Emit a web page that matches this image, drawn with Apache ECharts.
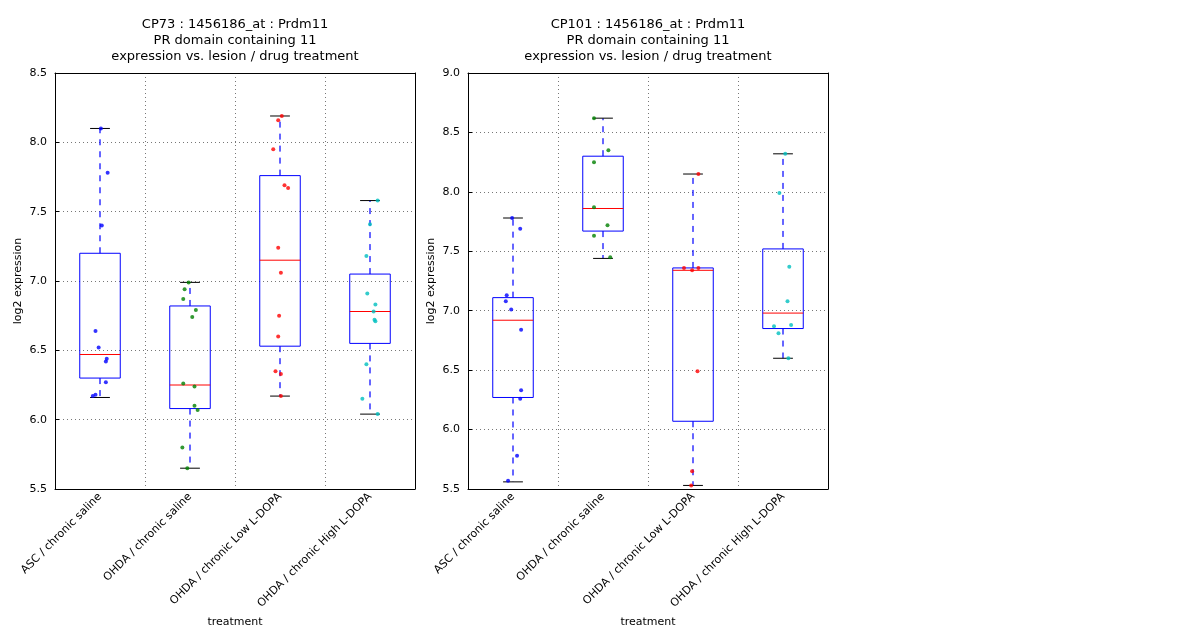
<!DOCTYPE html>
<html><head><meta charset="utf-8">
<script src="https://cdn.jsdelivr.net/npm/echarts@6/dist/echarts.min.js"></script>
<style>body{margin:0;background:#fff}#main{width:1200px;height:640px}</style>
</head><body><div id="main"></div>
<script>
var categories = ['ASC / chronic saline', 'OHDA / chronic saline', 'OHDA / chronic Low L-DOPA', 'OHDA / chronic High L-DOPA'];
var colors = ['#0000ff', '#008000', '#ff0000', '#00bfbf'];

// CP73 : [min whisker, q1, median, q3, max whisker]
var boxCP73 = [
    [6.16, 6.30, 6.47, 7.20, 8.10],
    [5.65, 6.08, 6.25, 6.82, 6.99],
    [6.17, 6.53, 7.15, 7.76, 8.19],
    [6.04, 6.55, 6.78, 7.05, 7.58]
];
// points as [jitter, value]
var ptsCP73 = [
    [[0.01, 8.10], [0.085, 7.78], [0.02, 7.40], [-0.05, 6.64], [-0.015, 6.52], [0.075, 6.44], [0.065, 6.42], [0.065, 6.27], [-0.05, 6.18], [-0.08, 6.17]],
    [[-0.015, 6.99], [-0.06, 6.94], [-0.075, 6.87], [0.065, 6.79], [0.025, 6.74], [-0.075, 6.26], [0.05, 6.24], [0.05, 6.10], [0.085, 6.07], [-0.085, 5.80], [-0.03, 5.65]],
    [[0.02, 8.19], [-0.02, 8.16], [-0.075, 7.95], [0.05, 7.69], [0.09, 7.67], [-0.02, 7.24], [0.01, 7.06], [-0.01, 6.75], [-0.02, 6.60], [-0.05, 6.35], [0.01, 6.33], [0.01, 6.17]],
    [[0.085, 7.58], [0, 7.41], [-0.04, 7.18], [-0.03, 6.91], [0.06, 6.83], [0.04, 6.78], [0.05, 6.72], [0.06, 6.71], [-0.04, 6.40], [-0.085, 6.15], [0.085, 6.04]]
];

var boxCP101 = [
    [5.56, 6.27, 6.92, 7.11, 7.78],
    [7.44, 7.67, 7.86, 8.30, 8.62],
    [5.53, 6.07, 7.34, 7.36, 8.15],
    [6.60, 6.85, 6.98, 7.52, 8.32]
];
var ptsCP101 = [
    [[-0.01, 7.78], [0.08, 7.69], [-0.07, 7.13], [-0.08, 7.08], [-0.02, 7.01], [0.09, 6.84], [0.09, 6.33], [0.08, 6.26], [0.045, 5.78], [-0.055, 5.57]],
    [[-0.1, 8.62], [0.06, 8.35], [-0.1, 8.25], [-0.1, 7.87], [0.05, 7.72], [-0.1, 7.63], [0.08, 7.45]],
    [[0.06, 8.15], [-0.1, 7.36], [0.06, 7.36], [-0.01, 7.34], [0.05, 6.49], [-0.01, 5.65], [-0.02, 5.53]],
    [[0.025, 8.32], [-0.04, 7.99], [0.07, 7.37], [0.05, 7.08], [0.09, 6.88], [-0.1, 6.87], [-0.05, 6.81], [0.06, 6.60]]
];

var yMin = [5.5, 5.5], yMax = [8.5, 9.0];
var titles = [
    'CP73 : 1456186_at : Prdm11\nPR domain containing 11\nexpression vs. lesion / drug treatment',
    'CP101 : 1456186_at : Prdm11\nPR domain containing 11\nexpression vs. lesion / drug treatment'
];
var lefts = [55, 468];

var chart = echarts.init(document.getElementById('main'));
var font = 'DejaVu Sans';

function renderBox(params, api) {
    var i = api.value(0);
    var lo = api.value(1), q1 = api.value(2), md = api.value(3), q3 = api.value(4), hi = api.value(5);
    var hw = 0.225, cw = 0.11;
    var p = function (x, y) { return api.coord([x, y]); };
    var line = function (a, b, style) { return { type: 'line', shape: { x1: a[0], y1: a[1], x2: b[0], y2: b[1] }, style: style }; };
    var tl = p(i - hw, q3), br = p(i + hw, q1);
    var blue = { stroke: '#0000ff', lineWidth: 1.2, lineDash: [6, 6] };
    var cap = { stroke: '#000', lineWidth: 1 };
    return { type: 'group', children: [
        line(p(i, q3), p(i, hi), blue),
        line(p(i, q1), p(i, lo), blue),
        line(p(i - cw, hi), p(i + cw, hi), cap),
        line(p(i - cw, lo), p(i + cw, lo), cap),
        { type: 'rect', shape: { x: tl[0], y: tl[1], width: br[0] - tl[0], height: br[1] - tl[1] }, style: { fill: 'none', stroke: '#0000ff', lineWidth: 1 } },
        line(p(i - hw, md), p(i + hw, md), { stroke: '#ff0000', lineWidth: 1 })
    ] };
}

var option = { backgroundColor: '#fff', animation: false, title: [], grid: [], xAxis: [], yAxis: [], series: [] };
[[boxCP73, ptsCP73], [boxCP101, ptsCP101]].forEach(function (d, g) {
    option.title.push({ text: titles[g], left: lefts[g] + 175, top: 12, textAlign: 'center',
        textStyle: { fontFamily: font, fontSize: 13, fontWeight: 'normal', color: '#000', lineHeight: 16 } });
    option.grid.push({ left: lefts[g], top: 73, width: 360, height: 416 });
    // category axis: labels centred, grid lines at boundaries
    option.xAxis.push({ type: 'category', gridIndex: g, data: categories, boundaryGap: true,
        name: 'treatment', nameLocation: 'middle', nameGap: 128,
        nameTextStyle: { fontFamily: font, fontSize: 11, color: '#000' },
        axisLine: { onZero: false, lineStyle: { color: '#000' } }, axisTick: { show: false },
        axisLabel: { rotate: 45, fontFamily: font, fontSize: 11, color: '#000', margin: 6 },
        splitLine: { show: true, lineStyle: { color: '#777', type: [1, 3] } } });
    // hidden value axis for placing marks
    option.xAxis.push({ type: 'value', gridIndex: g, min: -0.5, max: 3.5, show: false });
    option.yAxis.push({ type: 'value', gridIndex: g, min: yMin[g], max: yMax[g], interval: 0.5,
        name: 'log2 expression', nameLocation: 'middle', nameGap: 31,
        nameTextStyle: { fontFamily: font, fontSize: 11, color: '#000' },
        axisLine: { show: true, onZero: false, lineStyle: { color: '#000' } },
        axisTick: { inside: true, length: 4, lineStyle: { color: '#000' } },
        axisLabel: { fontFamily: font, fontSize: 11, color: '#000', formatter: function (v) { return v.toFixed(1); } },
        splitLine: { show: true, lineStyle: { color: '#777', type: [1, 3] } } });
    // frame on top/right
    option.xAxis.push({ type: 'value', gridIndex: g, position: 'top', min: 0, max: 1, axisLine: { show: true, onZero: false, lineStyle: { color: '#000' } }, axisTick: { show: false }, axisLabel: { show: false }, splitLine: { show: false } });
    option.yAxis.push({ type: 'value', gridIndex: g, position: 'right', min: 0, max: 1, axisLine: { show: true, onZero: false, lineStyle: { color: '#000' } }, axisTick: { show: false }, axisLabel: { show: false }, splitLine: { show: false } });
    option.series.push({ type: 'custom', xAxisIndex: g * 3 + 1, yAxisIndex: g * 2, renderItem: renderBox,
        data: d[0].map(function (b, i) { return [i].concat(b); }), z: 2 });
    d[1].forEach(function (pts, i) {
        option.series.push({ type: 'scatter', xAxisIndex: g * 3 + 1, yAxisIndex: g * 2, symbolSize: 4, z: 3,
            itemStyle: { color: colors[i] },
            data: pts.map(function (q) { return [i + q[0], q[1]]; }) });
    });
});
chart.setOption(option);
</script>
</body></html>
